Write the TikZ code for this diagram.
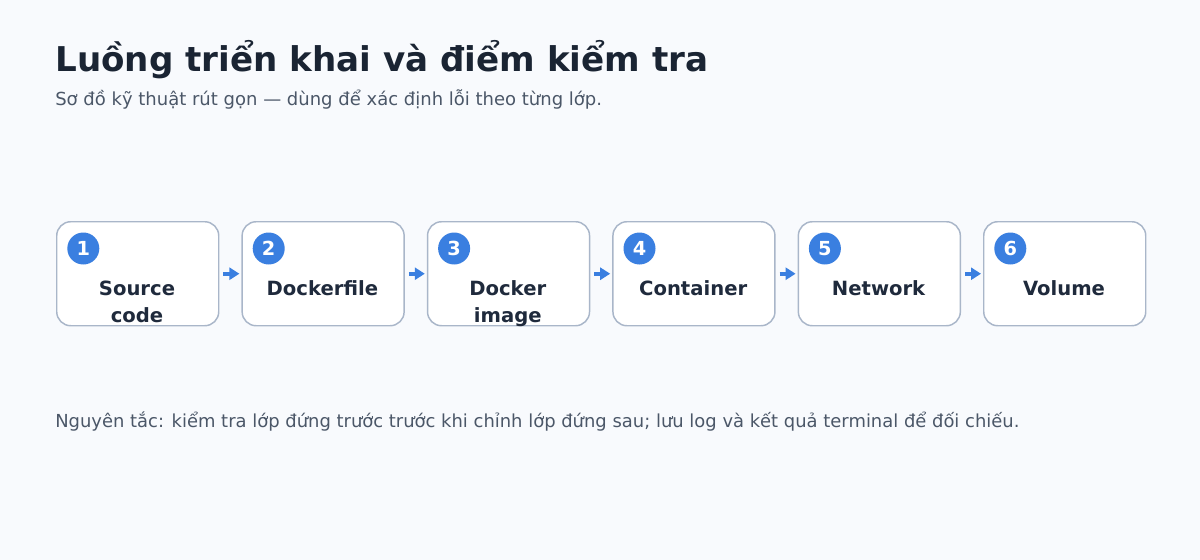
\documentclass[tikz,border=0pt]{standalone}
\usepackage{fontspec}
\setmainfont{DejaVu Sans}
\usetikzlibrary{arrows.meta}
\definecolor{bg}{HTML}{F8FAFD}
\definecolor{titlec}{HTML}{1A2433}
\definecolor{subc}{HTML}{4B5768}
\definecolor{boxc}{HTML}{A9B6C9}
\definecolor{blue}{HTML}{3A7FE0}
\definecolor{labc}{HTML}{1F2A3C}
\tikzset{
  stepbox/.style={draw=boxc, line width=1.1pt, fill=white, rounded corners=10.5pt, minimum width=121.5pt, minimum height=78pt, inner sep=0pt},
  badge/.style={circle, fill=blue, minimum size=24pt, inner sep=0pt, text=white, font=\bfseries\fontsize{14.5}{16}\selectfont},
  lab/.style={text=labc, font=\bfseries\fontsize{14.7}{20.25}\selectfont, align=center, anchor=base},
  flow/.style={draw=blue, line width=3pt, -{Triangle[length=7.5pt,width=9pt]}, shorten >=0pt},
}
\begin{document}
\begin{tikzpicture}[x=0.75pt,y=-0.75pt]
\fill[bg] (0,0) rectangle (1200,560);
\useasboundingbox (0,0) rectangle (1200,560);
\node[anchor=base west, inner sep=0pt, text=titlec, font=\bfseries\fontsize{25.6}{30}\selectfont] (title) at (55,72) {Luồng triển khai và điểm kiểm tra};
\node[anchor=base west, inner sep=0pt, text=subc, font=\fontsize{13.5}{16}\selectfont] (sub) at (55,106) {Sơ đồ kỹ thuật rút gọn — dùng để xác định lỗi theo từng lớp.};
\foreach \i/\x/\y/\t in {1/56/322/{Source\\code},2/241.4/295/Dockerfile,3/426.8/322/{Docker\\image},4/612.2/295/Container,5/797.6/295/Network,6/983/295/Volume}{
  \node[stepbox, anchor=north west] (b\i) at (\x,221) {};
  \node[badge] (n\i) at (\x+27.3,248.5) {\i};
  \node[lab] (l\i) at (\x+81,\y) {\t};
}
\foreach \a/\b in {1/2,2/3,3/4,4/5,5/6}{
  \coordinate (s\a) at ([xshift=3pt]b\a.east);
  \coordinate (e\a) at ([xshift=-1.5pt]b\b.west);
  \draw[flow] (s\a) -- (e\a);
}
\node[anchor=base west, inner sep=0pt, text=subc, font=\fontsize{13.45}{16}\selectfont] (note) at (55,427) {Nguyên tắc: kiểm tra lớp đứng trước trước khi chỉnh lớp đứng sau; lưu log và kết quả terminal để đối chiếu.};
\end{tikzpicture}
\end{document}
